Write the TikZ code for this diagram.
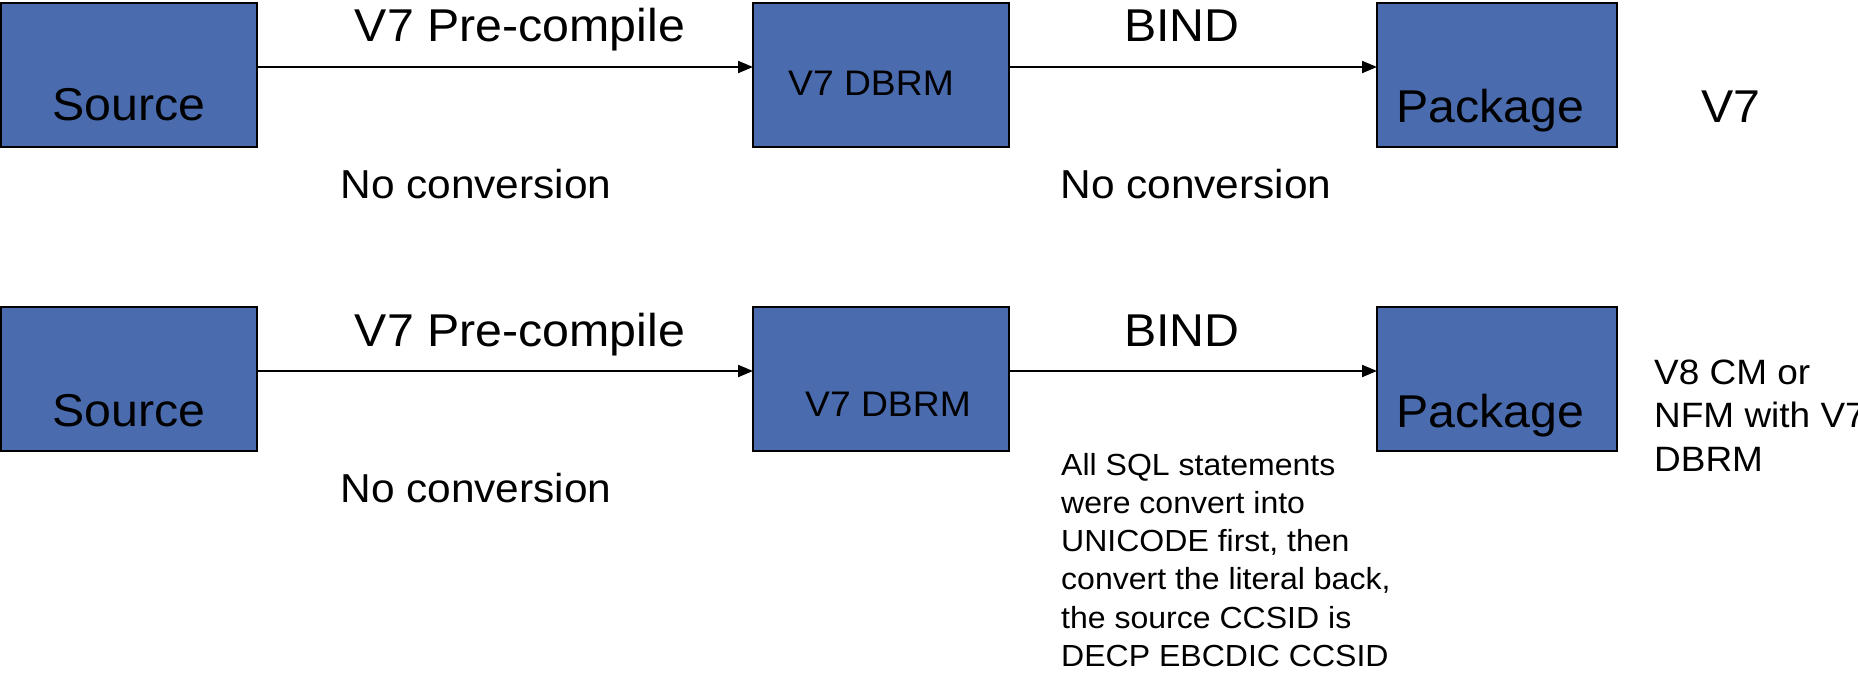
\documentclass[tikz,border=0pt]{standalone}
\usepackage{fontspec}
\setmainfont{Liberation Sans}[FakeStretch=1.05]
\usetikzlibrary{arrows.meta}
\definecolor{boxblue}{RGB}{74,108,175}
\begin{document}
\begin{tikzpicture}[x=1pt,y=-1pt,
  boxnode/.style={draw=black, line width=2pt, fill=boxblue, minimum height=144pt, inner sep=0pt, outer sep=0pt},
  big/.style={font=\fontsize{46}{55}\selectfont, inner sep=0pt, anchor=base},
  noconv/.style={font=\fontsize{40.4}{48}\selectfont, inner sep=0pt, anchor=base},
  dbrmtxt/.style={font=\fontsize{35.5}{42}\selectfont, inner sep=0pt, anchor=base},
  note/.style={font=\fontsize{30.5}{38.3}\selectfont, inner sep=0pt, anchor=base west, align=left},
  side/.style={font=\fontsize{35.2}{43.5}\selectfont, inner sep=0pt, anchor=base west, align=left},
  flow/.style={-{Triangle[length=15pt,width=12pt]}, line width=2pt}]
\path[fill=white,use as bounding box] (0,0) rectangle (1858,674);

% row 1
\node[boxnode, minimum width=256pt] (src1) at (129,75) {};
\node[boxnode, minimum width=256pt] (dbrm1) at (881,75) {};
\node[boxnode, minimum width=240pt] (pkg1) at (1497,75) {};
\draw[flow] ([yshift=8pt]src1.east) -- ([yshift=8pt]dbrm1.west);
\draw[flow] ([yshift=8pt]dbrm1.east) -- ([yshift=8pt]pkg1.west);
\node[big] (src1t) at (129,121) {Source};
\node[dbrmtxt] (dbrm1t) at (871,96) {V7 DBRM};
\node[big] (pkg1t) at (1490,123) {Package};
\node[big] (pre1) at (520,42) {V7 Pre-compile};
\node[big] (bind1) at (1182,42) {BIND};
\node[big] (ver1) at (1731,123) {V7};
\node[noconv] (nc1a) at (476,198) {No conversion};
\node[noconv] (nc1b) at (1196,198) {No conversion};

% row 2
\node[boxnode, minimum width=256pt] (src2) at (129,379) {};
\node[boxnode, minimum width=256pt] (dbrm2) at (881,379) {};
\node[boxnode, minimum width=240pt] (pkg2) at (1497,379) {};
\draw[flow] ([yshift=8pt]src2.east) -- ([yshift=8pt]dbrm2.west);
\draw[flow] ([yshift=8pt]dbrm2.east) -- ([yshift=8pt]pkg2.west);
\node[big] (src2t) at (129,426) {Source};
\node[dbrmtxt] (dbrm2t) at (888,416) {V7 DBRM};
\node[big] (pkg2t) at (1490,427) {Package};
\node[big] (pre2) at (520,346) {V7 Pre-compile};
\node[big] (bind2) at (1182,346) {BIND};
\node[noconv] (nc2a) at (476,502) {No conversion};
\node[note] (note2) at (1061,666.5) {All SQL statements\\were convert into\\UNICODE first, then\\convert the literal back,\\the source CCSID is\\DECP EBCDIC CCSID};
\node[side] (ver2) at (1654,471) {V8 CM or\\NFM with V7\\DBRM};
\end{tikzpicture}
\end{document}
